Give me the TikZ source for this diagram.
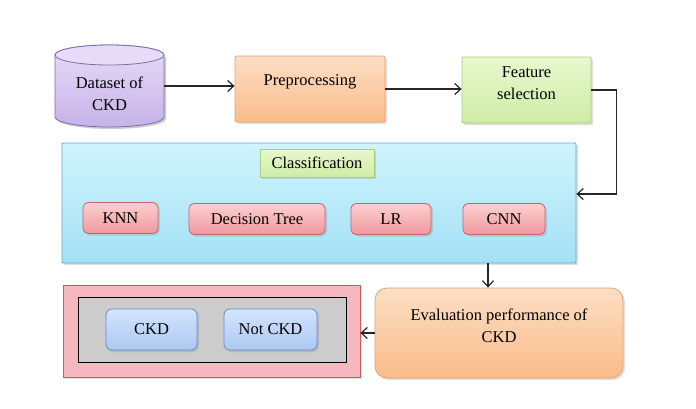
\documentclass[tikz,border=0pt]{standalone}
\usepackage{fontspec}
\setmainfont{Liberation Serif}
\usetikzlibrary{arrows.meta,shadows}

\definecolor{cyltop}{RGB}{230,220,247}
\definecolor{cylbody}{RGB}{198,178,232}
\definecolor{cylline}{RGB}{128,108,168}
\definecolor{orangetop}{RGB}{252,222,196}
\definecolor{orangebot}{RGB}{250,188,138}
\definecolor{orangeline}{RGB}{226,162,112}
\definecolor{greentop}{RGB}{232,248,206}
\definecolor{greenbot}{RGB}{206,236,166}
\definecolor{greenline}{RGB}{168,204,128}
\definecolor{cyantop}{RGB}{208,244,253}
\definecolor{cyanbot}{RGB}{164,224,246}
\definecolor{cyanline}{RGB}{96,168,200}
\definecolor{pinktop}{RGB}{252,208,208}
\definecolor{pinkbot}{RGB}{240,152,158}
\definecolor{pinkline}{RGB}{198,100,106}
\definecolor{redfill}{RGB}{246,184,190}
\definecolor{redline}{RGB}{200,92,102}
\definecolor{grayfill}{RGB}{204,204,204}
\definecolor{bluetop}{RGB}{212,228,252}
\definecolor{bluebot}{RGB}{172,200,242}
\definecolor{blueline}{RGB}{100,140,200}

\begin{document}
\begin{tikzpicture}[x=1pt, y=-1pt,
    font=\fontsize{16.5}{22}\selectfont,
    box/.style={draw, line width=0.8pt, inner sep=0pt,
        drop shadow={opacity=0.25, shadow xshift=2pt, shadow yshift=-2pt}},
    orangebox/.style={box, draw=orangeline, top color=orangetop, bottom color=orangebot},
    greenbox/.style={box, draw=greenline, top color=greentop, bottom color=greenbot},
    modelbox/.style={box, draw=pinkline, top color=pinktop, bottom color=pinkbot,
        rounded corners=5pt, minimum height=31pt},
    classbox/.style={box, draw=blueline, top color=bluetop, bottom color=bluebot,
        rounded corners=6pt, minimum height=41pt},
    arr/.style={-{Straight Barb[length=6pt, width=11pt]}, line width=1.2pt, black!85}]

    \useasboundingbox (0,0) rectangle (696,408);

    \fill[black, opacity=0.2] (57,57) -- (57,119) arc[start angle=180, end angle=0, x radius=54.5, y radius=10]
        -- (166,57) -- cycle;
    \draw[cylline, line width=0.8pt, top color=cyltop, bottom color=cylbody]
        (55,55) -- (55,117) arc[start angle=180, end angle=0, x radius=54.5, y radius=10]
        -- (164,55) arc[start angle=0, end angle=-180, x radius=54.5, y radius=10] -- cycle;
    \draw[cylline, line width=0.8pt, fill=cyltop] (109.5,55) ellipse[x radius=54.5, y radius=10];
    \node[minimum width=109pt, minimum height=82pt, inner sep=0pt,
        label={[yshift=-8pt, align=center]center:Dataset of\\CKD}] (data) at (109.5,86) {};

    \node[orangebox, rounded corners=2pt, minimum width=150pt, minimum height=66pt,
        label={[yshift=7pt]center:Preprocessing}] (pre) at (310,89) {};
    \node[greenbox, rounded corners=1pt, minimum width=129pt, minimum height=66pt,
        label={[yshift=7pt, align=center]center:Feature\\selection}] (feat) at (526.5,90) {};

    \node[box, draw=cyanline, top color=cyantop, bottom color=cyanbot, rounded corners=1pt,
        minimum width=514pt, minimum height=120pt] (cls) at (319,203) {};
    \node[greenbox, minimum width=114pt, minimum height=28pt] (clsname) at (317,163) {Classification};
    \node[modelbox, minimum width=75pt] (knn) at (120.5,218) {KNN};
    \node[modelbox, minimum width=136pt] (dt) at (257,219) {Decision Tree};
    \node[modelbox, minimum width=80pt] (lr) at (391,219) {LR};
    \node[modelbox, minimum width=82pt] (cnn) at (504,219) {CNN};

    \node[orangebox, rounded corners=12pt, minimum width=248pt, minimum height=90pt,
        label={[yshift=7pt, align=center]center:Evaluation performance of\\CKD}] (eval) at (499,333) {};

    \node[box, draw=redline, fill=redfill, minimum width=297pt, minimum height=92pt] (out) at (211.5,331) {};
    \node[draw=black, line width=1pt, fill=grayfill, minimum width=268pt, minimum height=65pt,
        inner sep=0pt] (res) at (212,329.5) {};
    \node[classbox, minimum width=91pt] (ckd) at (151.5,329.5) {CKD};
    \node[classbox, minimum width=93pt] (notckd) at (270.5,329.5) {Not CKD};

    \draw[arr] (data.east) -- (data.east -| pre.west);
    \draw[arr] (pre.east) -- (pre.east -| feat.west);
    \draw[arr] (feat.east) -- ++(25,0) |- ([yshift=9pt]cls.east);
    \draw[arr] ([xshift=-11pt]eval.north |- cls.south) -- ([xshift=-11pt]eval.north);
    \draw[arr] (eval.west) -- (eval.west -| out.east);
\end{tikzpicture}
\end{document}
